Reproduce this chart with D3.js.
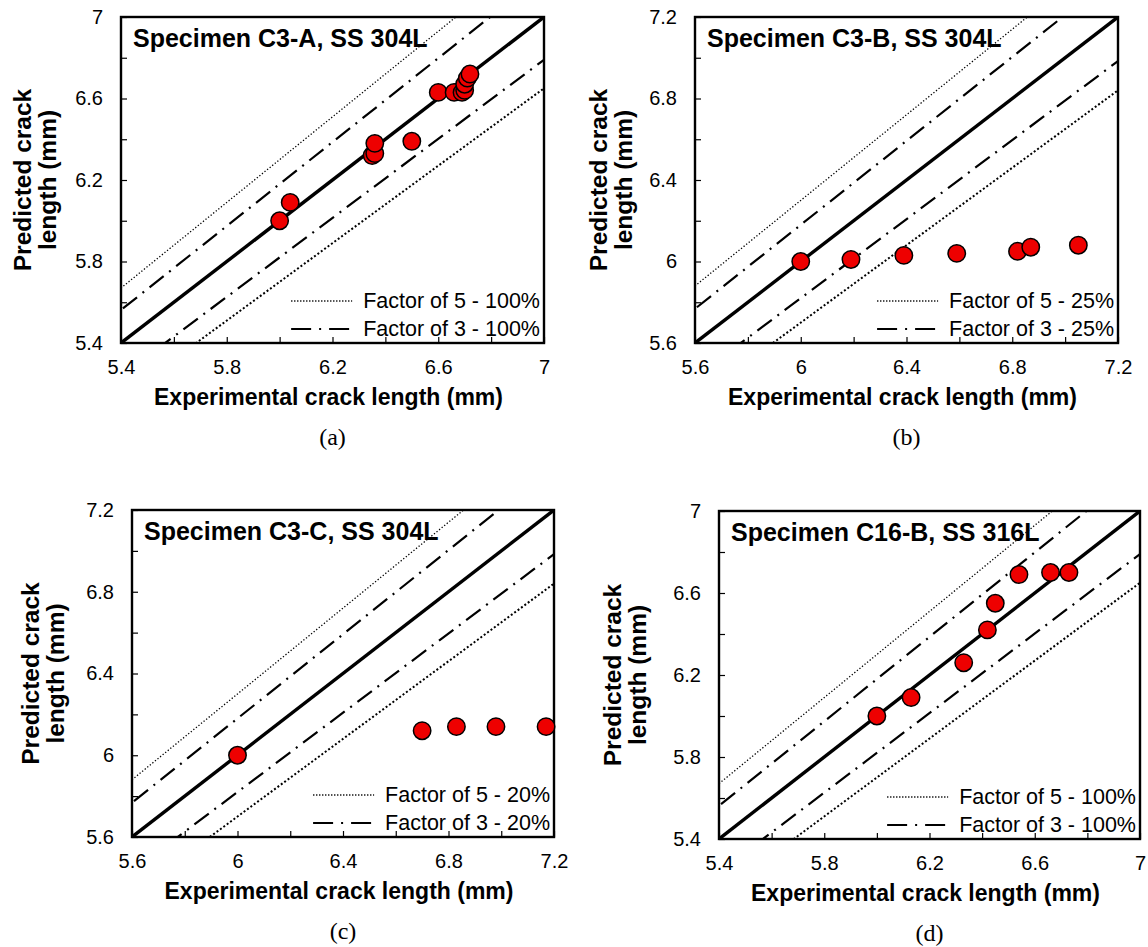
<!DOCTYPE html>
<html>
<head>
<meta charset="utf-8">
<script src="https://cdn.jsdelivr.net/npm/d3@7"></script>
<style>
  html, body { margin: 0; padding: 0; background: #fff; }
  svg { display: block; }
</style>
</head>
<body>
<svg id="chart" width="1148" height="947"></svg>
<script>
// ---------------- DATA ----------------
const titleA = "Specimen C3-A, SS 304L";
const titleB = "Specimen C3-B, SS 304L";
const titleC = "Specimen C3-C, SS 304L";
const titleD = "Specimen C16-B, SS 316L";

const captions = ["(a)", "(b)", "(c)", "(d)"];

const expA  = [6.00, 6.04, 6.35, 6.36, 6.36, 6.50, 6.60, 6.66, 6.69, 6.70, 6.70, 6.71, 6.72];
const predA = [6.00, 6.09, 6.32, 6.33, 6.38, 6.39, 6.63, 6.63, 6.63, 6.64, 6.67, 6.70, 6.72];

const expB  = [6.00, 6.19, 6.39, 6.59, 6.82, 6.87, 7.05];
const predB = [6.00, 6.01, 6.03, 6.04, 6.05, 6.07, 6.08];

const expC  = [6.00, 6.70, 6.83, 6.98, 7.17];
const predC = [6.00, 6.12, 6.14, 6.14, 6.14];

const expD  = [6.00, 6.13, 6.33, 6.42, 6.45, 6.54, 6.66, 6.73];
const predD = [6.00, 6.09, 6.26, 6.42, 6.55, 6.69, 6.70, 6.70];

// axis ranges, tick positions and tick labels
const domainAD = [5.4, 7.0];
const domainBC = [5.6, 7.2];
const ticksAD = [5.4, 5.6, 5.8, 6.0, 6.2, 6.4, 6.6, 6.8, 7.0];
const ticksBC = [5.6, 5.8, 6.0, 6.2, 6.4, 6.6, 6.8, 7.0, 7.2];
const labelTicksAD = [5.4, 5.8, 6.2, 6.6, 7.0];
const labelTextAD  = ["5.4", "5.8", "6.2", "6.6", "7"];
const labelTicksBC = [5.6, 6.0, 6.4, 6.8, 7.2];
const labelTextBC  = ["5.6", "6", "6.4", "6.8", "7.2"];

// band lines (predicted = factor * experimental)
const factor5Ratios = [1.05, 0.95];
const factor3Ratios = [1.03, 0.97];

const legendA = ["Factor of 5 - 100%", "Factor of 3 - 100%"];
const legendB = ["Factor of 5 - 25%", "Factor of 3 - 25%"];
const legendC = ["Factor of 5 - 20%", "Factor of 3 - 20%"];
const legendD = ["Factor of 5 - 100%", "Factor of 3 - 100%"];

const xTitle = "Experimental crack length (mm)";
const yTitle = ["Predicted crack", "length (mm)"];

// ---------------- DRAWING ----------------
const svg = d3.select("#chart");
const SANS = "'Liberation Sans', Arial, Helvetica, sans-serif";
const SERIF = "'Liberation Serif', 'Times New Roman', serif";
const DASHDOT = "18,7,2,7";

function drawPanel(cfg, idx) {
  const g = svg.append("g");
  const x = d3.scaleLinear().domain(cfg.domain).range([cfg.left, cfg.right]);
  const y = d3.scaleLinear().domain(cfg.domain).range([cfg.bottom, cfg.top]);
  const clipId = "clip" + idx;
  g.append("clipPath").attr("id", clipId).append("rect")
    .attr("x", cfg.left).attr("y", cfg.top)
    .attr("width", cfg.right - cfg.left).attr("height", cfg.bottom - cfg.top);

  const plot = g.append("g").attr("clip-path", `url(#${clipId})`);
  const d0 = cfg.domain[0] - 1, d1 = cfg.domain[1] + 1;
  const lineGen = d3.line().x(d => x(d[0])).y(d => y(d[1]));

  // factor of 5 (dotted)
  factor5Ratios.forEach((r, i) => {
    plot.append("path")
      .attr("d", lineGen([[d0, d0 * r], [d1, d1 * r]]))
      .attr("fill", "none").attr("stroke", "#000")
      .attr("stroke-width", i === 0 ? 1.3 : 2)
      .attr("stroke-dasharray", i === 0 ? "1.3,2" : "2,2.2");
  });
  // factor of 3 (dash-dot)
  factor3Ratios.forEach(r => {
    plot.append("path")
      .attr("d", lineGen([[d0, d0 * r], [d1, d1 * r]]))
      .attr("fill", "none").attr("stroke", "#000")
      .attr("stroke-width", 2.2)
      .attr("stroke-dasharray", DASHDOT);
  });
  // 1:1 line
  plot.append("path")
    .attr("d", lineGen([[d0, d0], [d1, d1]]))
    .attr("fill", "none").attr("stroke", "#000").attr("stroke-width", 3.4);

  // axes (ticks inward)
  const fmt = v => {
    const k = cfg.labelTicks.findIndex(t => Math.abs(t - v) < 1e-6);
    return k >= 0 ? cfg.labelText[k] : "";
  };
  const ax = g.append("g").attr("transform", `translate(0,${cfg.bottom})`)
    .call(d3.axisBottom(x).tickValues(cfg.ticks).tickSizeInner(-6).tickSizeOuter(0)
      .tickPadding(17).tickFormat(fmt));
  const ay = g.append("g").attr("transform", `translate(${cfg.left},0)`)
    .call(d3.axisLeft(y).tickValues(cfg.ticks).tickSizeInner(-6).tickSizeOuter(0)
      .tickPadding(18).tickFormat(fmt));
  [ax, ay].forEach(a => {
    a.select(".domain").remove();
    a.selectAll(".tick line").attr("stroke", "#000").attr("stroke-width", 1.2);
    a.selectAll("text").attr("font-family", SANS).attr("font-size", 20).attr("fill", "#000");
  });

  // frame
  g.append("rect")
    .attr("x", cfg.left).attr("y", cfg.top)
    .attr("width", cfg.right - cfg.left).attr("height", cfg.bottom - cfg.top)
    .attr("fill", "none").attr("stroke", "#000").attr("stroke-width", 2.4);

  // points
  const pts = cfg.xs.map((v, i) => [v, cfg.ys[i]]);
  g.append("g").selectAll("circle").data(pts).join("circle")
    .attr("cx", d => x(d[0])).attr("cy", d => y(d[1])).attr("r", 8.7)
    .attr("fill", "#ee0000").attr("stroke", "#000").attr("stroke-width", 1.5);

  // panel title
  g.append("text").attr("x", cfg.left + 12).attr("y", cfg.top + 30)
    .attr("font-family", SANS).attr("font-weight", "bold").attr("font-size", 25)
    .text(cfg.title);

  // legend
  cfg.legend.forEach((lab, i) => {
    const ly = cfg.bottom - 42 + i * 28;
    const t = g.append("text").attr("x", cfg.right - 4).attr("y", ly + 7)
      .attr("text-anchor", "end").attr("font-family", SANS).attr("font-size", 21.5)
      .text(lab);
    const w = t.node().getComputedTextLength();
    const sx1 = cfg.right - 4 - w - 11, sx0 = sx1 - 61;
    g.append("line").attr("x1", sx0).attr("x2", sx1).attr("y1", ly).attr("y2", ly)
      .attr("stroke", "#000")
      .attr("stroke-width", i === 0 ? 1.3 : 2.2)
      .attr("stroke-dasharray", i === 0 ? "1.3,1.7" : "20,8,2,8");
  });

  // axis titles
  const cx = (cfg.left + cfg.right) / 2;
  g.append("text").attr("x", cx - 4).attr("y", cfg.bottom + 62)
    .attr("text-anchor", "middle").attr("font-family", SANS).attr("font-weight", "bold")
    .attr("font-size", 23).text(xTitle);
  const cy = (cfg.top + cfg.bottom) / 2;
  yTitle.forEach((s, i) => {
    g.append("text")
      .attr("transform", `translate(${cfg.yTitleX + i * 25},${cy}) rotate(-90)`)
      .attr("text-anchor", "middle").attr("font-family", SANS).attr("font-weight", "bold")
      .attr("font-size", 24.5).text(s);
  });
  // caption
  g.append("text").attr("x", cx).attr("y", cfg.bottom + 102)
    .attr("text-anchor", "middle").attr("font-family", SERIF).attr("font-size", 24)
    .text(cfg.caption);
}

const panels = [
  { left: 121, right: 544, top: 17, bottom: 343, domain: domainAD, ticks: ticksAD,
    labelTicks: labelTicksAD, labelText: labelTextAD, xs: expA, ys: predA,
    title: titleA, legend: legendA, caption: captions[0], yTitleX: 31 },
  { left: 695, right: 1118, top: 17, bottom: 343, domain: domainBC, ticks: ticksBC,
    labelTicks: labelTicksBC, labelText: labelTextBC, xs: expB, ys: predB,
    title: titleB, legend: legendB, caption: captions[1], yTitleX: 607 },
  { left: 132, right: 554, top: 510, bottom: 837, domain: domainBC, ticks: ticksBC,
    labelTicks: labelTicksBC, labelText: labelTextBC, xs: expC, ys: predC,
    title: titleC, legend: legendC, caption: captions[2], yTitleX: 39 },
  { left: 719, right: 1140, top: 511, bottom: 839, domain: domainAD, ticks: ticksAD,
    labelTicks: labelTicksAD, labelText: labelTextAD, xs: expD, ys: predD,
    title: titleD, legend: legendD, caption: captions[3], yTitleX: 621 }
];
panels.forEach((p, i) => drawPanel(p, i));
</script>
</body>
</html>
